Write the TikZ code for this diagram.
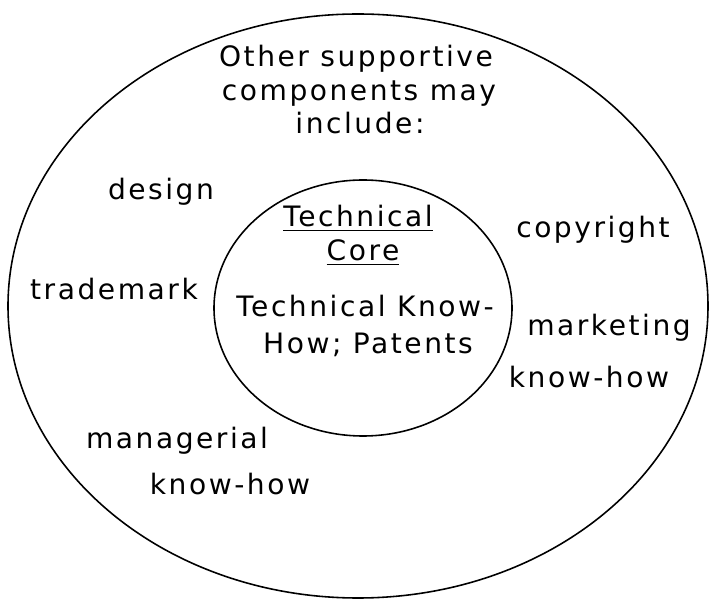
\documentclass[tikz,border=0pt]{standalone}
\usepackage{fontspec}
\setmainfont[LetterSpace=9]{DejaVu Sans}
\usepackage{tikz}

\tikzset{
  ring/.style={draw=black, line width=0.9pt},
  lbl/.style={anchor=base, inner sep=0pt, font=\fontsize{16}{19}\selectfont},
}

\begin{document}
\begin{tikzpicture}[x=0.02cm, y=-0.02cm]
\useasboundingbox (0,0) rectangle (710,604);
% rings
\draw[ring] (358,306) ellipse [x radius=350, y radius=292];
\draw[ring] (363,308) ellipse [x radius=149, y radius=128];
% heading
\node[lbl] (oth1) at (356,67) {Other supportive};
\node[lbl] (oth2) at (359,101) {components may};
\node[lbl] (oth3) at (360,134) {include:};
% core
\node[lbl] (core1) at (358,227) {\underline{Technical}};
\node[lbl] (core2) at (363,261) {\underline{Core}};
\node[lbl] (core3) at (365,317) {Technical Know-};
\node[lbl] (core4) at (368,354) {How; Patents};
% outer ring items
\node[lbl] (design) at (161,200) {design};
\node[lbl] (trade) at (114,300) {trademark};
\node[lbl] (copy) at (593,238) {copyright};
\node[lbl] (mkt1) at (609,336) {marketing};
\node[lbl] (mkt2) at (589,388) {know-how};
\node[lbl] (mgr1) at (177,448) {managerial};
\node[lbl] (mgr2) at (230,494) {know-how};
\end{tikzpicture}
\end{document}
